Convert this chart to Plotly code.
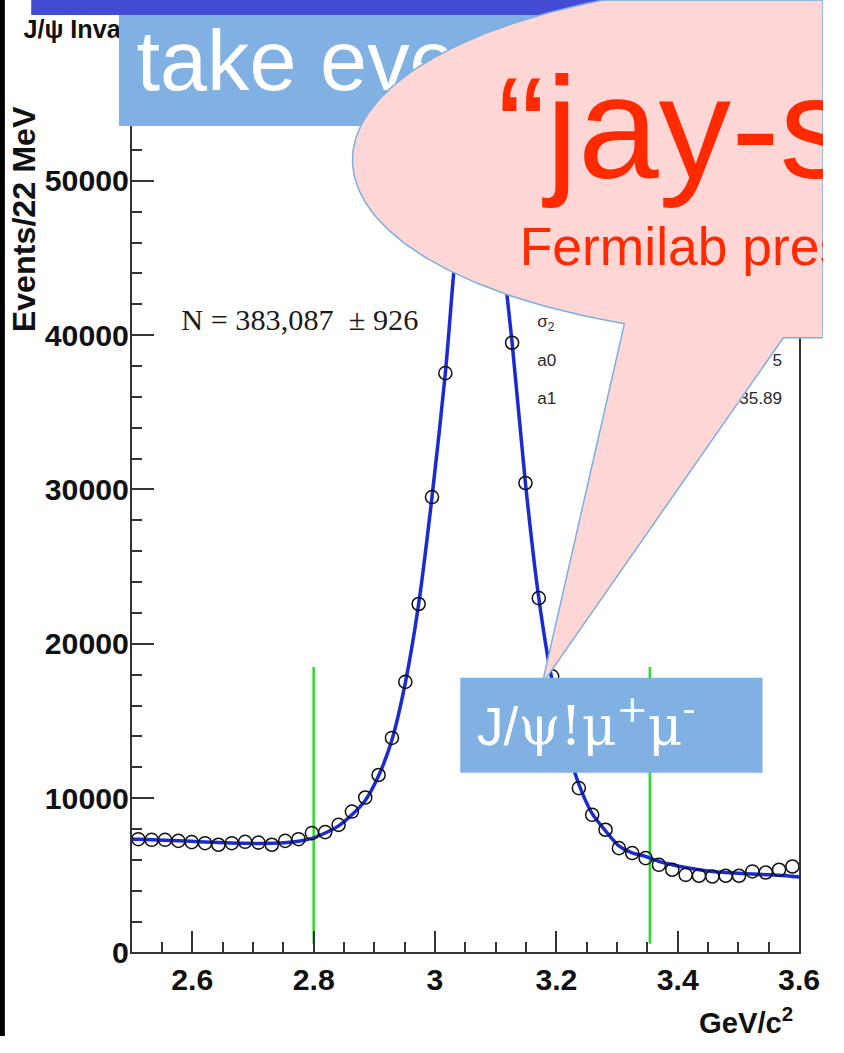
import numpy as np
import plotly.graph_objects as go

W, H = 844, 1053

# slide units -> page pixels
SX, SY = 1.0, 1053 / 1070
S = (SX * SY) ** 0.5
SW, SH = W * SX, H * SY          # slide extent covered by the page

# ---- histogram: dimuon invariant mass, 22 MeV bins ----
mass_gev = [2.511, 2.533, 2.555, 2.577, 2.599, 2.621, 2.643, 2.665, 2.687, 2.709,
            2.731, 2.753, 2.775, 2.797, 2.819, 2.841, 2.863, 2.885, 2.907, 2.929,
            2.951, 2.973, 2.995, 3.017, 3.039, 3.061, 3.083, 3.105, 3.127, 3.149,
            3.171, 3.193, 3.215, 3.237, 3.259, 3.281, 3.303, 3.325, 3.347, 3.369,
            3.391, 3.413, 3.435, 3.457, 3.479, 3.501, 3.523, 3.545, 3.567, 3.589]
events = [7340, 7300, 7300, 7230, 7150, 7080, 6980, 7080, 7170, 7120,
          6980, 7230, 7340, 7730, 7800, 8270, 9130, 10040, 11500, 13900,
          17530, 22580, 29510, 37540, 47500, 52800, 52500, 47200, 39510, 30420,
          22960, 17890, 13800, 10650, 8920, 7950, 6760, 6440, 6110, 5680,
          5360, 5030, 4970, 4920, 4970, 4970, 5250, 5180, 5360, 5570]

# ---- fitted signal + background curve ----
fit_mass = [2.5] + mass_gev + [3.6]
fit_events = [7350, 7330, 7300, 7270, 7240, 7200, 7160, 7120, 7090, 7070, 7060,
              7070, 7110, 7200, 7390, 7740, 8200, 8920, 9850, 11450, 13780,
              17470, 22580, 29510, 37540, 47400, 52600, 52400, 47100, 39500, 30400,
              22960, 17600, 13800, 10900, 9000, 7880, 6900, 6450, 6220, 5900,
              5680, 5500, 5360, 5250, 5180, 5130, 5080, 5040, 5000, 4930, 4890]

# ---- signal window cuts ----
cut_mass = [2.8, 3.354]
cut_low, cut_high = 560, 18500

x_ticks = [2.6, 2.8, 3.0, 3.2, 3.4, 3.6]
x_ticklabels = ["2.6", "2.8", "3", "3.2", "3.4", "3.6"]
y_ticks = [0, 10000, 20000, 30000, 40000, 50000]
y_ticklabels = ["0", "10000", "20000", "30000", "40000", "50000"]

fit_stats_text = "N = 383,087  \u00b1 926"
stat_names = ["\u03c3<sub>2</sub>", "a0", "a1"]
stat_values = ["", "5", "35.89"]

SANS = "Liberation Sans"
SERIF = "Liberation Serif"


def px(v):
    """slide length -> page pixels"""
    return v / S


fig = go.Figure()

# --- main histogram panel ---
for xc in cut_mass:
    fig.add_trace(go.Scatter(x=[xc, xc], y=[cut_low, cut_high], mode="lines",
                             line=dict(color="#2BDB2B", width=px(2.5)),
                             hoverinfo="skip", showlegend=False))
fig.add_trace(go.Scatter(x=fit_mass, y=fit_events, mode="lines",
                         line=dict(color="#1B2BD2", width=px(3.5), shape="spline", smoothing=0.8),
                         hoverinfo="skip", showlegend=False))
fig.add_trace(go.Scatter(x=mass_gev, y=events, mode="markers",
                         marker=dict(symbol="circle-open", size=px(13), color="#111111",
                                     line=dict(width=px(1.5), color="#111111")),
                         showlegend=False))

# --- slide overlay, in slide units ---
def ov_rect(x0, x1, y0, y1, color):
    fig.add_trace(go.Scatter(x=[x0, x1, x1, x0, x0], y=[y0, y0, y1, y1, y0],
                             mode="none", fill="toself", fillcolor=color,
                             xaxis="x2", yaxis="y2", hoverinfo="skip", showlegend=False))


def ov_text(x, baseline, s, size, color, family=SANS, pos="middle right", weight="normal"):
    fig.add_trace(go.Scatter(x=[x], y=[baseline - 0.25 * size], mode="text", text=[s],
                             textposition=pos,
                             textfont=dict(family=family, size=px(size), color=color, weight=weight),
                             xaxis="x2", yaxis="y2", hoverinfo="skip", showlegend=False))


# fit box contents
ov_text(186, 330, fit_stats_text, 30, "#1a1a1a", family=SERIF)
for name, base in zip(stat_names, [327, 366, 404]):
    ov_text(551, base, name, 17, "#2a2a2a")
for val, base in zip(stat_values, [327, 366, 404]):
    if val:
        ov_text(802, base, val, 17, "#2a2a2a", pos="middle left")

# histogram title
ov_text(24, 38, "J/\u03c8 Inva", 25, "#111111", weight="bold")

# slide furniture
ov_rect(0, 5, 0, SH, "#000000")
ov_rect(32, SW, 0, 15, "#434BD4")
ov_rect(122, 640, 15, 126, "#80B1E2")
ov_text(140, 90, "take eve", 84, "#FFFFFF")

# speech bubble (outline kept inside the slide)
cx, cy, a, b = 820.0, 160.0, 458.5, 178.0
t0 = np.arctan2((325 - cy) / b, (639 - cx) / a)
t1 = np.arctan2((338.3 - cy) / b, (803.3 - cx) / a) + 2 * np.pi
tt = np.linspace(t0, t1, 400)
bx = np.clip(np.r_[cx + a * np.cos(tt), 556, cx + a * np.cos(t0)], 0, SW)
by = np.clip(np.r_[cy + b * np.sin(tt), 684, cy + b * np.sin(t0)], 0, SH)
fig.add_trace(go.Scatter(x=bx, y=by, mode="lines", fill="toself", fillcolor="#FFD6D6",
                         line=dict(color="#7DAEE0", width=px(1.5)),
                         xaxis="x2", yaxis="y2", hoverinfo="skip", showlegend=False))
ov_text(510, 178, "\u201cjay-s", 144, "#FF2A00")
ov_text(533, 265, "Fermilab pres", 53, "#FF2A00")

# decay label box
ov_rect(472, 782, 678, 773, "#80B1E2")
ov_text(489, 745,
        "<span style=\"font-family:'Liberation Sans'\">J/</span>\u03c8!\u03bc<sup>+</sup>\u03bc<sup>-</sup>",
        53, "#FFFFFF", family="DejaVu Serif")

axis_common = dict(showline=True, linecolor="#333333", linewidth=px(1.5), mirror=True,
                   ticks="inside", ticklen=px(22), tickwidth=px(1.5), tickcolor="#333333",
                   showgrid=False, zeroline=False,
                   tickfont=dict(family=SANS, size=px(30), color="#111111", weight="bold"))

x_left, x_right = 135, 819.5          # slide units
y_bottom, y_top = 952.7, 96.0
fig.update_layout(
    width=W, height=H, margin=dict(l=0, r=0, t=0, b=0),
    paper_bgcolor="#FFFFFF", plot_bgcolor="rgba(0,0,0,0)",
    xaxis=dict(domain=[x_left / SW, x_right / SW], range=[2.5, 3.6],
               tickvals=x_ticks, ticktext=x_ticklabels,
               minor=dict(dtick=0.05, tick0=2.5, ticks="inside", ticklen=px(11),
                          tickwidth=px(1.5), tickcolor="#333333"),
               **axis_common),
    yaxis=dict(domain=[1 - y_bottom / SH, 1 - y_top / SH], range=[0, 55500],
               tickvals=y_ticks, ticktext=y_ticklabels, ticklabelstandoff=-5,
               minor=dict(dtick=2000, tick0=0, ticks="inside", ticklen=px(11),
                          tickwidth=px(1.5), tickcolor="#333333"),
               **axis_common),
    xaxis2=dict(domain=[0, 1], range=[0, SW], visible=False, fixedrange=True, anchor="y2"),
    yaxis2=dict(domain=[0, 1], range=[SH, 0], visible=False, fixedrange=True, anchor="x2"),
    annotations=[
        dict(text="Events/22 MeV", textangle=-90, xref="paper", yref="paper",
             x=25 / SW, y=1 - 104 / SH, xanchor="center", yanchor="top", showarrow=False,
             font=dict(family=SANS, size=px(32), color="#111111", weight="bold")),
        dict(text="GeV/c<sup>2</sup>", xref="paper", yref="paper",
             x=815 / SW, y=1 - 1021 / SH, xanchor="right", yanchor="middle", showarrow=False,
             font=dict(family=SANS, size=px(29), color="#111111", weight="bold")),
    ],
)

# the page holds only the figure: no body margin, no scrolling
page_css = (
    "document.documentElement.style.margin='0';"
    "document.body.style.margin='0';"
    "document.documentElement.style.overflow='hidden';"
    "document.body.style.overflow='hidden';"
)
fig.write_html("out.html", post_script=page_css)
